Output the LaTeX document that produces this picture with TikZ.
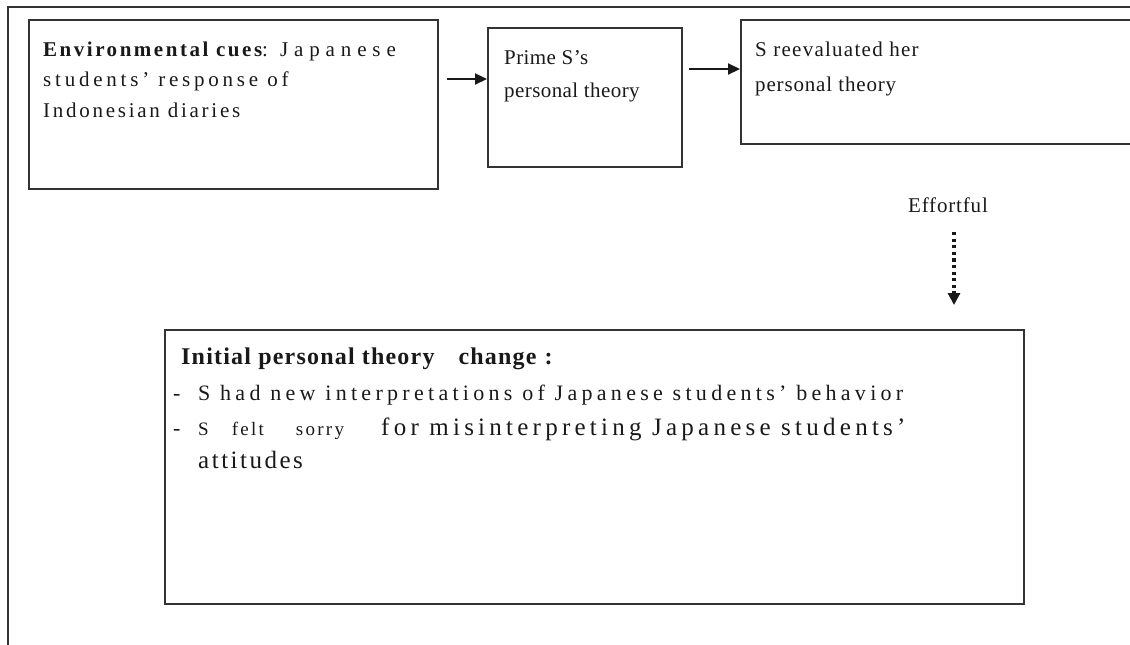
\documentclass[tikz,border=0pt]{standalone}
\usepackage{fontspec}
\setmainfont{Liberation Serif}[Ligatures={TeX,NoCommon}]
\newcommand{\tracked}[1]{\addfontfeature{LetterSpace=#1}}
\usetikzlibrary{arrows.meta}

\begin{document}
\begin{tikzpicture}[x=1pt, y=-1pt,
		box/.style={draw=black!80, line width=1.6pt, anchor=north west, inner sep=0pt},
		txt/.style={anchor=base west, inner sep=0pt, text=black!90, font=\fontsize{21}{25}\selectfont\tracked{4}},
		cuetxt/.style={txt, font=\fontsize{21}{25}\selectfont\tracked{15}},
		listtxt/.style={txt, font=\fontsize{22}{26}\selectfont\tracked{19.5}},
		smalltxt/.style={txt, font=\fontsize{19}{23}\selectfont\tracked{12}},
		head/.style={txt, font=\fontsize{24}{28}\selectfont\bfseries\tracked{5}},
		big/.style={txt, font=\fontsize{25}{30}\selectfont\tracked{17}},
		arr/.style={-{Triangle[length=12pt,width=11pt]}, line width=2.2pt, black!90},
		dotarr/.style={-{Triangle[length=12pt,width=12pt]}, line width=3.4pt, dash pattern=on 3.2pt off 3.4pt, black!90}]
	\useasboundingbox (0,0) rectangle (1130,645);

	% page frame
	\draw[black!80, line width=1.8pt] (1140,7) -- (8,7) -- (8,650);

	% boxes
	\node[box, minimum width=409pt, minimum height=169pt] (cues) at (28,19) {};
	\node[box, minimum width=194pt, minimum height=139pt] (prime) at (487,27) {};
	\node[box, minimum width=420pt, minimum height=124pt] (reeval) at (740,19) {};
	\node[box, minimum width=859pt, minimum height=274pt] (change) at (164,329) {};

	% texts
	\node[cuetxt] (cue1) at (43,56) {{\bfseries\tracked{12}Environmental cues}:\hspace{12pt}{\tracked{28}Japanese}};
	\node[cuetxt, font=\fontsize{21}{25}\selectfont\tracked{18}] (cue2) at (43,86) {students' response of};
	\node[cuetxt, font=\fontsize{21}{25}\selectfont\tracked{13}] (cue3) at (43,117) {Indonesian diaries};

	\node[txt, font=\fontsize{21}{25}\selectfont\tracked{2}] (prime1) at (504,64) {Prime S's};
	\node[txt, font=\fontsize{21}{25}\selectfont\tracked{2}] (prime2) at (504,97) {personal theory};

	\node[txt, font=\fontsize{21}{25}\selectfont\tracked{6}] (reeval1) at (755,56) {S reevaluated her};
	\node[txt] (reeval2) at (755,91) {personal theory};

	\node[txt, anchor=base] (effort) at (948,212) {Effortful};

	\node[head] (init) at (181,364) {Initial personal theory\hspace{24pt}change\hspace{8pt}:};
	\node[listtxt] (dash1) at (173,400) {-};
	\node[listtxt] (item1) at (198,400) {S had new interpretations of Japanese students' behavior};
	\node[listtxt] (dash2) at (173,435) {-};
	\node[smalltxt] (item2) at (198,435) {S\hspace{23pt}felt\hspace{32pt}sorry};
	\node[big] (item2b) at (381,435) {for misinterpreting Japanese students'};
	\node[big, font=\fontsize{25}{30}\selectfont\tracked{10}] (item2c) at (198,468) {attitudes};

	% arrows
	\coordinate (a1) at (447,79);
	\coordinate (a2) at (689,69);
	\draw[arr] (a1) -- (a1 -| prime.west);
	\draw[arr] (a2) -- (a2 -| reeval.west);

	\coordinate (d1) at (954,232);
	\coordinate (d2) at (954,305);
	\draw[dotarr] (d1) -- (d2);
\end{tikzpicture}
\end{document}
